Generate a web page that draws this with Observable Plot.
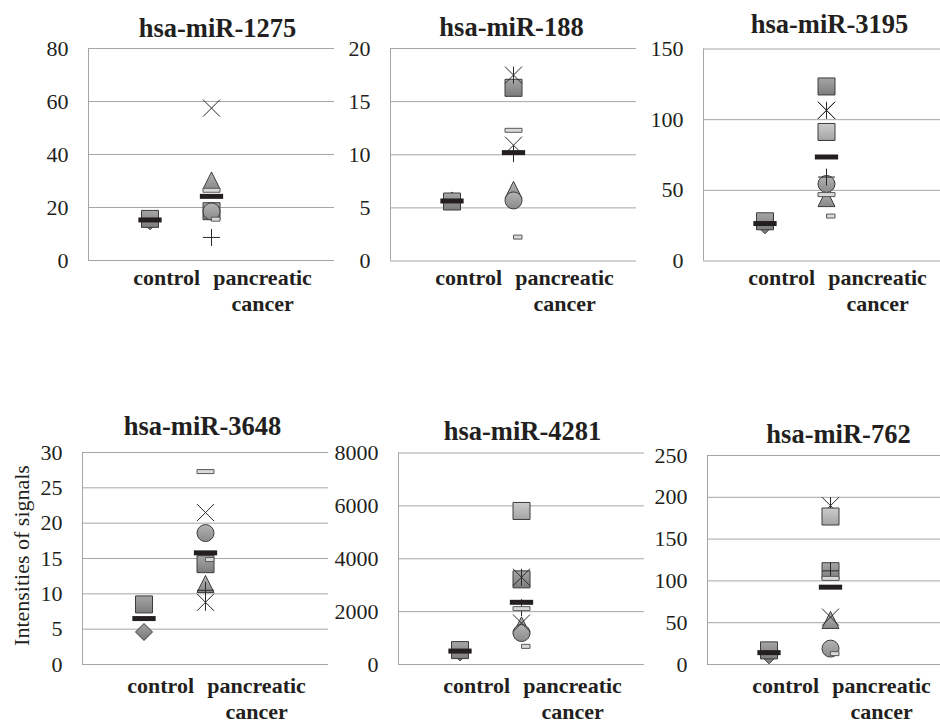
<!DOCTYPE html>
<html><head><meta charset="utf-8">
<script src="https://cdn.jsdelivr.net/npm/d3@7"></script>
<script src="https://cdn.jsdelivr.net/npm/@observablehq/plot@0.6"></script>
<style>
html,body{margin:0;padding:0;background:#fff;}
#chart{position:relative;width:940px;height:724px;overflow:hidden;background:#fff;}
</style></head><body>
<svg width="0" height="0" style="position:absolute">
<defs>
<linearGradient id="gDark" x1="0" y1="0" x2="0" y2="1"><stop offset="0" stop-color="#a6a6a6"/><stop offset="1" stop-color="#7c7c7c"/></linearGradient>
<linearGradient id="gLight" x1="0" y1="0" x2="0" y2="1"><stop offset="0" stop-color="#cccccc"/><stop offset="1" stop-color="#a4a4a4"/></linearGradient>
<linearGradient id="gMid" x1="0" y1="0" x2="0" y2="1"><stop offset="0" stop-color="#b4b4b4"/><stop offset="1" stop-color="#8a8a8a"/></linearGradient>
<linearGradient id="gDiamond" x1="0" y1="0" x2="0" y2="1"><stop offset="0" stop-color="#a0a0a0"/><stop offset="1" stop-color="#7a7a7a"/></linearGradient>
</defs></svg>
<div id="chart"></div>
<script>
// ---------- data ----------
const genes = ["hsa-miR-1275","hsa-miR-188","hsa-miR-3195","hsa-miR-3648","hsa-miR-4281","hsa-miR-762"];
const categories = ["control","pancreatic cancer"];
const yMax = [80, 20, 150, 30, 8000, 250];
const yStep = [20, 5, 50, 5, 2000, 50];
const yAxisTitle = "Intensities of signals";

// control group samples (one value per panel)
const ctrlDiamond = [14.8, 5.7, 25.3, 4.6, 458, 11];
const ctrlSquare  = [15.7, 5.6, 28.1, 8.5, 545, 16.9];
const ctrlMean    = [15.3, 5.65, 26.5, 6.5, 508, 14.2];
// pancreatic cancer samples (one value per panel, null = not shown)
const pcDarkSquare  = [18.6, 16.3, 123.5, 14.2, 3220, 111.6];
const pcTriangle    = [30.2, 6.7, 44.5, 11.4, 1480, 53.3];
const pcCircle      = [18.5, 5.7, 54.5, 18.6, 1190, 19];
const pcCross       = [57.5, 10.9, 106.6, 21.5, 1568, 56.7];
const pcStar        = [null, 17.5, 106.6, 8.8, 3300, 190];
const pcLightSquare = [null, null, 91.3, null, 5807, 177];
const pcPlus        = [8.7, 10.1, 59.4, 10.5, 2150, 112];
const pcLongDash    = [26.5, 12.3, 47, 27.3, 2113, 103];
const pcShortDash   = [15.6, 2.25, 31.8, 14.85, 686, 13];
const pcMean        = [24.2, 10.2, 73.6, 15.8, 2352, 92.5];

// ---------- symbols ----------
const rad = s => Math.sqrt(s / Math.PI);
const symSquare = {draw(c, s){ const r = rad(s); c.rect(-r, -r, 2*r, 2*r); }};
const symDiamond = {draw(c, s){ const r = rad(s); c.moveTo(0,-r); c.lineTo(r,0); c.lineTo(0,r); c.lineTo(-r,0); c.closePath(); }};
const symTriangle = {draw(c, s){ const r = rad(s); c.moveTo(0,-r); c.lineTo(r,r); c.lineTo(-r,r); c.closePath(); }};
const symCircle = {draw(c, s){ const r = rad(s); c.moveTo(r,0); c.arc(0,0,r,0,2*Math.PI); c.closePath(); }};
const symTimes = {draw(c, s){ const r = rad(s); c.moveTo(-r,-r); c.lineTo(r,r); c.moveTo(r,-r); c.lineTo(-r,r); }};
const symStar = {draw(c, s){ const r = rad(s); c.moveTo(-r,-r); c.lineTo(r,r); c.moveTo(r,-r); c.lineTo(-r,r); c.moveTo(0,-r); c.lineTo(0,r); }};
const symPlus = {draw(c, s){ const r = rad(s); c.moveTo(-r,0); c.lineTo(r,0); c.moveTo(0,-r); c.lineTo(0,r); }};
const symLongDash = {draw(c, s){ const r = rad(s); c.rect(-r, -2, 2*r, 4); }};
const symShortDash = {draw(c, s){ const r = rad(s); c.rect(0, -2, r, 4); }};
const symMean = {draw(c, s){ const r = rad(s); c.rect(-1.37*r, -2.5, 2.74*r, 5); }};

const ms = "#3c3c3c";
const series = [
  {values: ctrlDiamond, cat: 0, symbol: symDiamond, fill: "url(#gDiamond)", stroke: ms},
  {values: ctrlSquare, cat: 0, symbol: symSquare, fill: "url(#gDark)", stroke: ms},
  {values: pcDarkSquare, cat: 1, symbol: symSquare, fill: "url(#gDark)", stroke: ms},
  {values: pcTriangle, cat: 1, symbol: symTriangle, fill: "url(#gMid)", stroke: ms},
  {values: pcCircle, cat: 1, symbol: symCircle, fill: "url(#gMid)", stroke: ms},
  {values: pcCross, cat: 1, symbol: symTimes, fill: "none", stroke: "#2a2a2a"},
  {values: pcStar, cat: 1, symbol: symStar, fill: "none", stroke: "#2a2a2a"},
  {values: pcLightSquare, cat: 1, symbol: symSquare, fill: "url(#gLight)", stroke: ms},
  {values: pcPlus, cat: 1, symbol: symPlus, fill: "none", stroke: "#2a2a2a"},
  {values: pcLongDash, cat: 1, symbol: symLongDash, fill: "#d9d9d9", stroke: "#5a5a5a"},
  {values: pcShortDash, cat: 1, symbol: symShortDash, fill: "#d9d9d9", stroke: "#5a5a5a"},
  {values: ctrlMean, cat: 0, symbol: symMean, fill: "#231f20", stroke: "none"},
  {values: pcMean, cat: 1, symbol: symMean, fill: "#231f20", stroke: "none"}
];

// ---------- layout ----------
const layout = [
  {left: 0,   top: 0,   fl: 88,  ft: 48,   fb: 260,   tdx: 6,  tdy: -20,   lab: 26},
  {left: 336, top: 0,   fl: 390, ft: 48,   fb: 260.5, tdx: -2, tdy: -20.5, lab: 26},
  {left: 640, top: 0,   fl: 703, ft: 48.5, fb: 260.5, tdx: 3,  tdy: -24,   lab: 26},
  {left: 0,   top: 400, fl: 82,  ft: 452,  fb: 664,   tdx: -3, tdy: -25.5, lab: 30},
  {left: 328, top: 400, fl: 398, ft: 452.5,fb: 664,   tdx: 1,  tdy: -21,   lab: 30},
  {left: 644, top: 400, fl: 707, ft: 455,  fb: 664,   tdx: 8,  tdy: -20.5, lab: 30}
];
const frameW = 246, svgH = 330;
const serif = "'Liberation Serif', 'Times New Roman', Times, serif";
const ink = "#231f20";
const gridColor = "#a6a6a6";
const labelShift = [0.27, 0.83];

const chart = document.getElementById("chart");

genes.forEach((gene, i) => {
  const L = layout[i];
  const ticks = d3.range(0, yMax[i] + yStep[i] / 2, yStep[i]);
  const marks = [
    Plot.ruleY(ticks, {stroke: gridColor, strokeWidth: 1}),
    Plot.ruleX([0], {y1: 0, y2: yMax[i], stroke: gridColor, strokeWidth: 1})
  ];
  series.forEach(s => {
    const v = s.values[i];
    if (v == null) return;
    marks.push(Plot.dot([{x: s.cat + 1, y: v}], {
      x: "x", y: "y", r: 8.5, symbol: s.symbol,
      fill: s.fill, stroke: s.stroke, strokeWidth: 1
    }));
  });
  // title
  marks.push(Plot.text([gene], {
    text: d => d, frameAnchor: "top", lineAnchor: "middle", textAnchor: "middle",
    dx: L.tdx, dy: L.tdy,
    fontFamily: serif, fontWeight: "bold", fontSize: 26.5, fill: ink
  }));
  // category labels
  marks.push(Plot.text(categories, {
    x: (d, k) => k + 1 + labelShift[k],
    text: d => d.replace(" ", "\n"),
    frameAnchor: "bottom", lineAnchor: "top", textAnchor: "middle", lineHeight: 1.17,
    dy: L.lab - 20,
    fontFamily: serif, fontWeight: "bold", fontSize: 22, fill: ink
  }));
  if (i === 3) {
    marks.push(Plot.text([yAxisTitle], {
      text: d => d, frameAnchor: "left", textAnchor: "middle", lineAnchor: "middle",
      rotate: -90, dx: 21 - L.fl, dy: -3,
      fontFamily: serif, fontSize: 22, fill: ink
    }));
  }
  const marginLeft = L.fl - L.left;
  const svg = Plot.plot({
    width: marginLeft + frameW,
    height: svgH,
    marginLeft,
    marginRight: 0,
    marginTop: L.ft - L.top,
    marginBottom: L.top + svgH - L.fb,
    x: {domain: [0, 4], axis: null},
    y: {domain: [0, yMax[i]], ticks, tickSize: 0, tickPadding: 20, tickFormat: d => String(d), label: null},
    style: {fontFamily: serif, fontSize: "22px", color: ink, background: "transparent", overflow: "visible"},
    marks
  });
  svg.style.position = "absolute";
  svg.style.left = L.left + "px";
  svg.style.top = L.top + "px";
  svg.style.maxWidth = "none";
  chart.appendChild(svg);
});
</script></body></html>
